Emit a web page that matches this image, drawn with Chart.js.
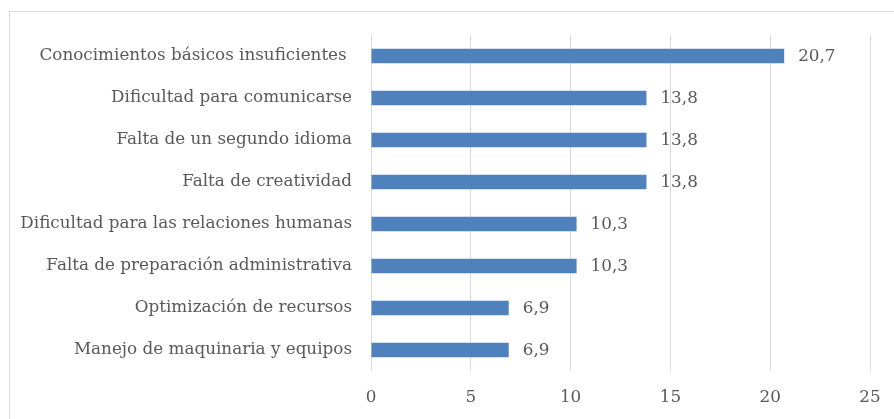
<!DOCTYPE html>
<html>
<head>
<meta charset="utf-8">
<script src="https://cdn.jsdelivr.net/npm/chart.js@4"></script>
<style>
  body { margin: 0; background: #fff; }
  #wrap { position: relative; width: 894px; height: 419px; overflow: hidden; }
  #frame { position: absolute; left: 9px; top: 11px; width: 900px; height: 430px; border: 1px solid #d9d9d9; box-sizing: border-box; }
  canvas { position: absolute; left: 0; top: 0; }
</style>
</head>
<body>
<div id="wrap">
  <div id="frame"></div>
  <canvas id="chart" width="894" height="419"></canvas>
</div>
<script>
// categories, top to bottom
const categories = [
  'Conocimientos básicos insuficientes ',
  'Dificultad para comunicarse',
  'Falta de un segundo idioma',
  'Falta de creatividad',
  'Dificultad para las relaciones humanas',
  'Falta de preparación administrativa',
  'Optimización de recursos',
  'Manejo de maquinaria y equipos'
];
const values = [20.7, 13.8, 13.8, 13.8, 10.3, 10.3, 6.9, 6.9];
const xTicks = [0, 5, 10, 15, 20, 25];

const textColor = '#595959';
const fontFamily = "'DejaVu Serif', serif";
const fontSize = 16.8;

// draws the value next to each bar
const valueLabels = {
  id: 'valueLabels',
  afterDatasetsDraw(chart) {
    const ctx = chart.ctx;
    const meta = chart.getDatasetMeta(0);
    ctx.save();
    ctx.font = fontSize + 'px ' + fontFamily;
    ctx.fillStyle = textColor;
    ctx.textAlign = 'left';
    ctx.textBaseline = 'middle';
    meta.data.forEach((bar, i) => {
      ctx.fillText(values[i].toFixed(1).replace('.', ','), bar.x + 14, bar.y + 1);
    });
    ctx.restore();
  }
};

new Chart(document.getElementById('chart').getContext('2d'), {
  type: 'bar',
  data: {
    labels: categories,
    datasets: [{
      data: values,
      backgroundColor: '#4f81bd',
      borderWidth: 0,
      barPercentage: 0.34,
      categoryPercentage: 1
    }]
  },
  options: {
    indexAxis: 'y',
    responsive: false,
    animation: false,
    layout: { padding: { top: 35, right: 24, bottom: 0, left: 0 } },
    plugins: { legend: { display: false }, tooltip: { enabled: false } },
    scales: {
      x: {
        min: 0,
        max: 25,
        afterBuildTicks: scale => { scale.ticks = xTicks.map(v => ({ value: v })); },
        afterFit: scale => { scale.height = 48; scale.paddingRight = 0; scale.paddingLeft = 0; },
        grid: { color: '#d9d9d9', drawTicks: false },
        border: { display: false },
        ticks: { color: textColor, font: { family: fontFamily, size: fontSize }, padding: 17 }
      },
      y: {
        afterFit: scale => { scale.width = 371; },
        grid: { display: false, drawTicks: false },
        border: { display: false },
        ticks: { color: textColor, font: { family: fontFamily, size: fontSize }, padding: 19 }
      }
    }
  },
  plugins: [valueLabels]
});
</script>
</body>
</html>
